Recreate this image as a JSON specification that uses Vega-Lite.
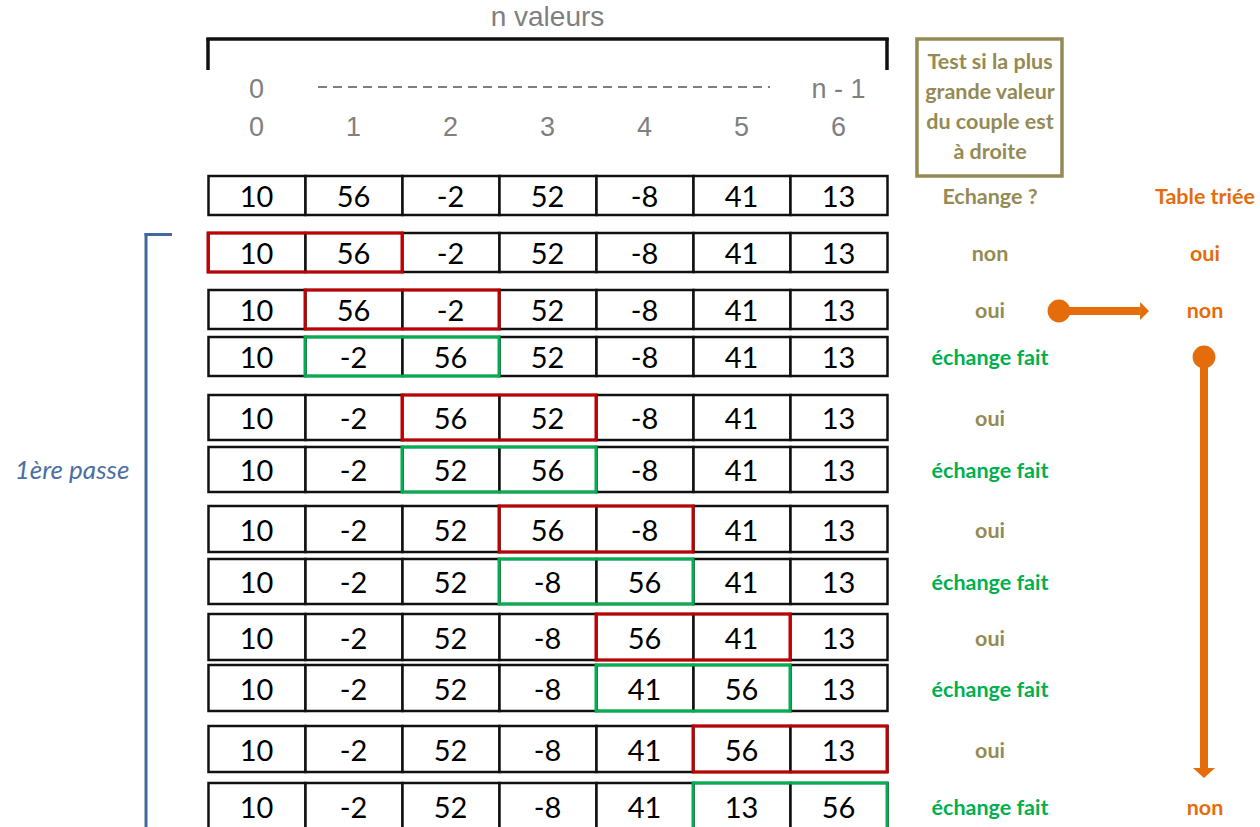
{
  "$schema": "https://vega.github.io/schema/vega-lite/v6.json",
  "width": 1260,
  "height": 827,
  "padding": 0,
  "autosize": {"type": "none"},
  "background": "white",
  "config": {"view": {"stroke": null}},
  "data": {"values": [{}]},
  "datasets": {
    "rows": [
      {"row": 0, "top": 176, "bottom": 215, "mid": 196},
      {"row": 1, "top": 233, "bottom": 272, "mid": 253},
      {"row": 2, "top": 290, "bottom": 329, "mid": 310},
      {"row": 3, "top": 337, "bottom": 376, "mid": 357},
      {"row": 4, "top": 395, "bottom": 440, "mid": 418},
      {"row": 5, "top": 447, "bottom": 492, "mid": 470},
      {"row": 6, "top": 506, "bottom": 552, "mid": 530},
      {"row": 7, "top": 559, "bottom": 604, "mid": 582},
      {"row": 8, "top": 614, "bottom": 660, "mid": 638},
      {"row": 9, "top": 665, "bottom": 711, "mid": 689},
      {"row": 10, "top": 726, "bottom": 772, "mid": 750},
      {"row": 11, "top": 783, "bottom": 829, "mid": 807}
    ],
    "cells": [
      {"row": 0, "col": 0, "value": "10"}, {"row": 0, "col": 1, "value": "56"}, {"row": 0, "col": 2, "value": "-2"}, {"row": 0, "col": 3, "value": "52"}, {"row": 0, "col": 4, "value": "-8"}, {"row": 0, "col": 5, "value": "41"}, {"row": 0, "col": 6, "value": "13"},
      {"row": 1, "col": 0, "value": "10"}, {"row": 1, "col": 1, "value": "56"}, {"row": 1, "col": 2, "value": "-2"}, {"row": 1, "col": 3, "value": "52"}, {"row": 1, "col": 4, "value": "-8"}, {"row": 1, "col": 5, "value": "41"}, {"row": 1, "col": 6, "value": "13"},
      {"row": 2, "col": 0, "value": "10"}, {"row": 2, "col": 1, "value": "56"}, {"row": 2, "col": 2, "value": "-2"}, {"row": 2, "col": 3, "value": "52"}, {"row": 2, "col": 4, "value": "-8"}, {"row": 2, "col": 5, "value": "41"}, {"row": 2, "col": 6, "value": "13"},
      {"row": 3, "col": 0, "value": "10"}, {"row": 3, "col": 1, "value": "-2"}, {"row": 3, "col": 2, "value": "56"}, {"row": 3, "col": 3, "value": "52"}, {"row": 3, "col": 4, "value": "-8"}, {"row": 3, "col": 5, "value": "41"}, {"row": 3, "col": 6, "value": "13"},
      {"row": 4, "col": 0, "value": "10"}, {"row": 4, "col": 1, "value": "-2"}, {"row": 4, "col": 2, "value": "56"}, {"row": 4, "col": 3, "value": "52"}, {"row": 4, "col": 4, "value": "-8"}, {"row": 4, "col": 5, "value": "41"}, {"row": 4, "col": 6, "value": "13"},
      {"row": 5, "col": 0, "value": "10"}, {"row": 5, "col": 1, "value": "-2"}, {"row": 5, "col": 2, "value": "52"}, {"row": 5, "col": 3, "value": "56"}, {"row": 5, "col": 4, "value": "-8"}, {"row": 5, "col": 5, "value": "41"}, {"row": 5, "col": 6, "value": "13"},
      {"row": 6, "col": 0, "value": "10"}, {"row": 6, "col": 1, "value": "-2"}, {"row": 6, "col": 2, "value": "52"}, {"row": 6, "col": 3, "value": "56"}, {"row": 6, "col": 4, "value": "-8"}, {"row": 6, "col": 5, "value": "41"}, {"row": 6, "col": 6, "value": "13"},
      {"row": 7, "col": 0, "value": "10"}, {"row": 7, "col": 1, "value": "-2"}, {"row": 7, "col": 2, "value": "52"}, {"row": 7, "col": 3, "value": "-8"}, {"row": 7, "col": 4, "value": "56"}, {"row": 7, "col": 5, "value": "41"}, {"row": 7, "col": 6, "value": "13"},
      {"row": 8, "col": 0, "value": "10"}, {"row": 8, "col": 1, "value": "-2"}, {"row": 8, "col": 2, "value": "52"}, {"row": 8, "col": 3, "value": "-8"}, {"row": 8, "col": 4, "value": "56"}, {"row": 8, "col": 5, "value": "41"}, {"row": 8, "col": 6, "value": "13"},
      {"row": 9, "col": 0, "value": "10"}, {"row": 9, "col": 1, "value": "-2"}, {"row": 9, "col": 2, "value": "52"}, {"row": 9, "col": 3, "value": "-8"}, {"row": 9, "col": 4, "value": "41"}, {"row": 9, "col": 5, "value": "56"}, {"row": 9, "col": 6, "value": "13"},
      {"row": 10, "col": 0, "value": "10"}, {"row": 10, "col": 1, "value": "-2"}, {"row": 10, "col": 2, "value": "52"}, {"row": 10, "col": 3, "value": "-8"}, {"row": 10, "col": 4, "value": "41"}, {"row": 10, "col": 5, "value": "56"}, {"row": 10, "col": 6, "value": "13"},
      {"row": 11, "col": 0, "value": "10"}, {"row": 11, "col": 1, "value": "-2"}, {"row": 11, "col": 2, "value": "52"}, {"row": 11, "col": 3, "value": "-8"}, {"row": 11, "col": 4, "value": "41"}, {"row": 11, "col": 5, "value": "13"}, {"row": 11, "col": 6, "value": "56"}
    ],
    "boxes": [
      {"row": 1, "from": 0, "to": 2, "kind": "comparé"},
      {"row": 2, "from": 1, "to": 3, "kind": "comparé"},
      {"row": 3, "from": 1, "to": 3, "kind": "échangé"},
      {"row": 4, "from": 2, "to": 4, "kind": "comparé"},
      {"row": 5, "from": 2, "to": 4, "kind": "échangé"},
      {"row": 6, "from": 3, "to": 5, "kind": "comparé"},
      {"row": 7, "from": 3, "to": 5, "kind": "échangé"},
      {"row": 8, "from": 4, "to": 6, "kind": "comparé"},
      {"row": 9, "from": 4, "to": 6, "kind": "échangé"},
      {"row": 10, "from": 5, "to": 7, "kind": "comparé"},
      {"row": 11, "from": 5, "to": 7, "kind": "échangé"}
    ],
    "indices": [
      {"col": 0}, {"col": 1}, {"col": 2}, {"col": 3}, {"col": 4}, {"col": 5}, {"col": 6}
    ],
    "ends": [
      {"col": 0, "label": "0"},
      {"col": 6, "label": "n - 1"}
    ],
    "echange": [
      {"row": 1, "text": "non", "kind": "test"},
      {"row": 2, "text": "oui", "kind": "test"},
      {"row": 3, "text": "échange fait", "kind": "fait"},
      {"row": 4, "text": "oui", "kind": "test"},
      {"row": 5, "text": "échange fait", "kind": "fait"},
      {"row": 6, "text": "oui", "kind": "test"},
      {"row": 7, "text": "échange fait", "kind": "fait"},
      {"row": 8, "text": "oui", "kind": "test"},
      {"row": 9, "text": "échange fait", "kind": "fait"},
      {"row": 10, "text": "oui", "kind": "test"},
      {"row": 11, "text": "échange fait", "kind": "fait"}
    ],
    "triee": [
      {"row": 1, "text": "oui"},
      {"row": 2, "text": "non"},
      {"row": 11, "text": "non"}
    ]
  },
  "layer": [
    {
      "data": {"name": "cells"},
      "transform": [{"lookup": "row", "from": {"data": {"name": "rows"}, "key": "row", "fields": ["top", "bottom", "mid"]}}],
      "mark": {"type": "rect", "fill": "white", "stroke": "#111111", "strokeWidth": 2.5},
      "encoding": {
        "x": {"field": "col", "type": "quantitative", "bin": {"step": 1, "extent": [0, 7]}, "axis": null, "scale": {"domain": [-2.1443, 10.8454], "nice": false, "zero": false}},
        "y": {"field": "top", "type": "quantitative", "axis": null, "scale": {"domain": [0, 827], "reverse": true, "nice": false, "zero": false}},
        "y2": {"field": "bottom"}
      }
    },
    {
      "data": {"name": "cells"},
      "transform": [{"lookup": "row", "from": {"data": {"name": "rows"}, "key": "row", "fields": ["top", "bottom", "mid"]}}],
      "mark": {"type": "text", "font": "Lato", "fontSize": 29, "color": "#000000", "baseline": "middle", "align": "center", "dy": 2},
      "encoding": {
        "x": {"field": "col", "type": "quantitative", "bin": {"step": 1, "extent": [0, 7]}, "axis": null},
        "y": {"field": "mid", "type": "quantitative", "axis": null},
        "text": {"field": "value", "type": "nominal"}
      }
    },
    {
      "data": {"name": "boxes"},
      "transform": [{"lookup": "row", "from": {"data": {"name": "rows"}, "key": "row", "fields": ["top", "bottom"]}}],
      "mark": {"type": "rect", "fill": null, "fillOpacity": 0, "strokeWidth": 3},
      "encoding": {
        "x": {"field": "from", "type": "quantitative", "axis": null},
        "x2": {"field": "to"},
        "y": {"field": "top", "type": "quantitative", "axis": null},
        "y2": {"field": "bottom"},
        "stroke": {"field": "kind", "type": "nominal", "scale": {"domain": ["comparé", "échangé"], "range": ["#c00000", "#00b050"]}, "legend": null}
      }
    },
    {
      "data": {"name": "indices"},
      "mark": {"type": "text", "font": "Liberation Sans", "fontSize": 27, "color": "#7f7f7f", "baseline": "middle", "align": "center"},
      "encoding": {
        "x": {"field": "col", "type": "quantitative", "bin": {"step": 1, "extent": [0, 7]}, "axis": null},
        "y": {"datum": 128, "type": "quantitative"},
        "text": {"field": "col", "type": "nominal"}
      }
    },
    {
      "data": {"name": "ends"},
      "mark": {"type": "text", "font": "Liberation Sans", "fontSize": 27, "color": "#7f7f7f", "baseline": "middle", "align": "center"},
      "encoding": {
        "x": {"field": "col", "type": "quantitative", "bin": {"step": 1, "extent": [0, 7]}, "axis": null},
        "y": {"datum": 90, "type": "quantitative"},
        "text": {"field": "label", "type": "nominal"}
      }
    },
    {
      "mark": {"type": "rule", "color": "#7f7f7f", "strokeWidth": 2, "strokeDash": [9, 6]},
      "encoding": {"x": {"datum": 1.134, "type": "quantitative"}, "x2": {"datum": 5.794}, "y": {"datum": 87, "type": "quantitative"}}
    },
    {
      "mark": {"type": "text", "text": "n valeurs", "font": "Liberation Sans", "fontSize": 28, "color": "#7f7f7f", "baseline": "middle", "align": "center"},
      "encoding": {"x": {"datum": 3.5, "type": "quantitative"}, "y": {"datum": 18, "type": "quantitative"}}
    },
    {
      "mark": {"type": "rule", "color": "#111111", "strokeWidth": 3.5},
      "encoding": {"x": {"datum": -0.017, "type": "quantitative"}, "x2": {"datum": 7.017}, "y": {"datum": 39, "type": "quantitative"}}
    },
    {
      "mark": {"type": "rule", "color": "#111111", "strokeWidth": 3.5},
      "encoding": {"x": {"datum": 0.0, "type": "quantitative"}, "y": {"datum": 38, "type": "quantitative"}, "y2": {"datum": 70}}
    },
    {
      "mark": {"type": "rule", "color": "#111111", "strokeWidth": 3.5},
      "encoding": {"x": {"datum": 7.0, "type": "quantitative"}, "y": {"datum": 38, "type": "quantitative"}, "y2": {"datum": 70}}
    },
    {
      "mark": {"type": "rule", "color": "#41699c", "strokeWidth": 3},
      "encoding": {"x": {"datum": -0.639, "type": "quantitative"}, "y": {"datum": 233, "type": "quantitative"}, "y2": {"datum": 827}}
    },
    {
      "mark": {"type": "rule", "color": "#41699c", "strokeWidth": 3},
      "encoding": {"x": {"datum": -0.654, "type": "quantitative"}, "x2": {"datum": -0.371}, "y": {"datum": 234.5, "type": "quantitative"}}
    },
    {
      "mark": {"type": "text", "text": "1ère passe", "font": "Lato", "fontStyle": "italic", "fontSize": 26, "color": "#4a6fa5", "baseline": "middle", "align": "center"},
      "encoding": {"x": {"datum": -1.402, "type": "quantitative"}, "y": {"datum": 471, "type": "quantitative"}}
    },
    {
      "mark": {"type": "rect", "fill": null, "fillOpacity": 0, "stroke": "#948a54", "strokeWidth": 3.5},
      "encoding": {"x": {"datum": 7.309, "type": "quantitative"}, "x2": {"datum": 8.804}, "y": {"datum": 39, "type": "quantitative"}, "y2": {"datum": 176}}
    },
    {
      "mark": {"type": "text", "text": ["Test si la plus", "grande valeur", "du couple est", "à droite"], "font": "Lato", "fontWeight": "bold", "fontSize": 21.5, "lineHeight": 30, "color": "#948a54", "baseline": "middle", "align": "center"},
      "encoding": {"x": {"datum": 8.062, "type": "quantitative"}, "y": {"datum": 63, "type": "quantitative"}}
    },
    {
      "mark": {"type": "text", "text": "Echange ?", "font": "Lato", "fontWeight": "bold", "fontSize": 21.5, "color": "#948a54", "baseline": "middle", "align": "center"},
      "encoding": {"x": {"datum": 8.062, "type": "quantitative"}, "y": {"datum": 198, "type": "quantitative"}}
    },
    {
      "mark": {"type": "text", "text": "Table triée", "font": "Lato", "fontWeight": "bold", "fontSize": 21.5, "color": "#e46c0a", "baseline": "middle", "align": "center"},
      "encoding": {"x": {"datum": 10.278, "type": "quantitative"}, "y": {"datum": 198, "type": "quantitative"}}
    },
    {
      "data": {"name": "echange"},
      "transform": [{"lookup": "row", "from": {"data": {"name": "rows"}, "key": "row", "fields": ["mid"]}}],
      "mark": {"type": "text", "font": "Lato", "fontWeight": "bold", "fontSize": 21.5, "baseline": "middle", "align": "center", "dy": 2},
      "encoding": {
        "x": {"datum": 8.062, "type": "quantitative"},
        "y": {"field": "mid", "type": "quantitative"},
        "text": {"field": "text", "type": "nominal"},
        "color": {"field": "kind", "type": "nominal", "scale": {"domain": ["test", "fait"], "range": ["#948a54", "#00b050"]}, "legend": null}
      }
    },
    {
      "data": {"name": "triee"},
      "transform": [{"lookup": "row", "from": {"data": {"name": "rows"}, "key": "row", "fields": ["mid"]}}],
      "mark": {"type": "text", "font": "Lato", "fontWeight": "bold", "fontSize": 21.5, "color": "#e46c0a", "baseline": "middle", "align": "center", "dy": 2},
      "encoding": {
        "x": {"datum": 10.278, "type": "quantitative"},
        "y": {"field": "mid", "type": "quantitative"},
        "text": {"field": "text", "type": "nominal"}
      }
    },
    {
      "mark": {"type": "rule", "color": "#e46c0a", "strokeWidth": 8},
      "encoding": {"x": {"datum": 8.773, "type": "quantitative"}, "x2": {"datum": 9.608}, "y": {"datum": 311, "type": "quantitative"}}
    },
    {
      "mark": {"type": "point", "filled": true, "color": "#e46c0a", "opacity": 1, "size": 520, "shape": "circle"},
      "encoding": {"x": {"datum": 8.773, "type": "quantitative"}, "y": {"datum": 311, "type": "quantitative"}}
    },
    {
      "mark": {"type": "point", "filled": true, "color": "#e46c0a", "opacity": 1, "size": 324, "shape": "M-0.5,-1L0.5,0L-0.5,1Z"},
      "encoding": {"x": {"datum": 9.655, "type": "quantitative"}, "y": {"datum": 311, "type": "quantitative"}}
    },
    {
      "mark": {"type": "rule", "color": "#e46c0a", "strokeWidth": 8},
      "encoding": {"x": {"datum": 10.268, "type": "quantitative"}, "y": {"datum": 357, "type": "quantitative"}, "y2": {"datum": 768}}
    },
    {
      "mark": {"type": "point", "filled": true, "color": "#e46c0a", "opacity": 1, "size": 520, "shape": "circle"},
      "encoding": {"x": {"datum": 10.268, "type": "quantitative"}, "y": {"datum": 357, "type": "quantitative"}}
    },
    {
      "mark": {"type": "point", "filled": true, "color": "#e46c0a", "opacity": 1, "size": 484, "shape": "M-1,-0.45L1,-0.45L0,0.45Z"},
      "encoding": {"x": {"datum": 10.268, "type": "quantitative"}, "y": {"datum": 773, "type": "quantitative"}}
    }
  ]
}
